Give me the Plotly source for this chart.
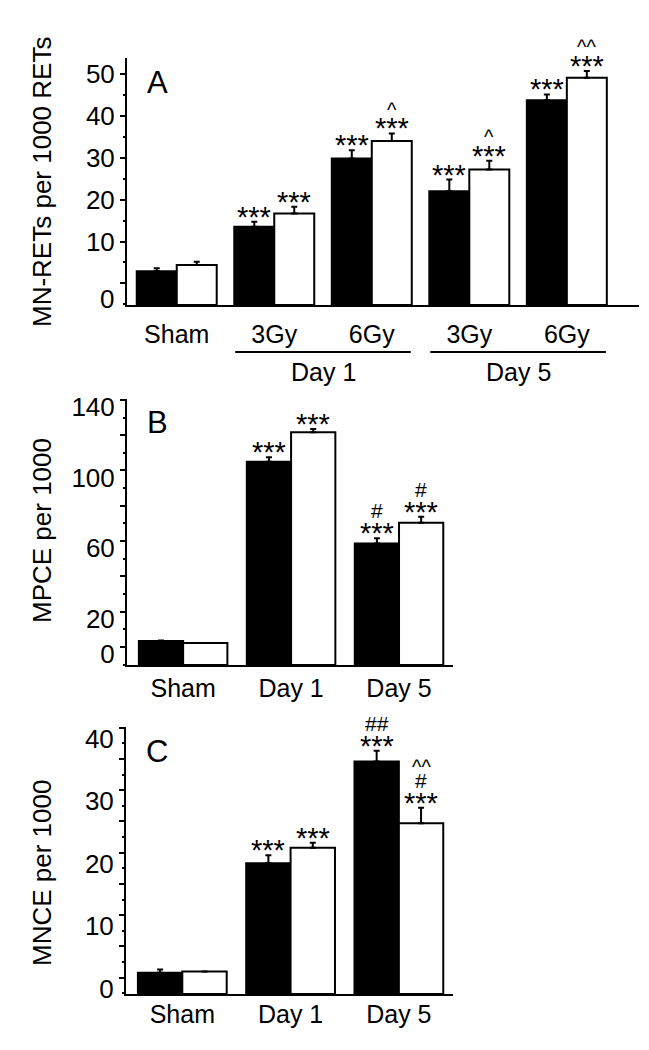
import plotly.graph_objects as go

W, H = 649, 1050
OFF = 8  # page body margin offset observed in the photographed page
FONT = "Arial, Liberation Sans, sans-serif"

# ---------------- data ----------------
# Panel A: MN-RETs per 1000 RETs
A_groups = ["Sham", "3Gy", "6Gy", "3Gy", "6Gy"]
A_black = [2.9, 13.5, 29.8, 22.0, 43.7]
A_black_err = [0.7, 1.2, 2.0, 2.8, 1.4]
A_white = [4.4, 16.7, 34.0, 27.2, 49.1]
A_white_err = [0.8, 1.6, 1.8, 2.1, 1.6]
A_marks_black = [[], ["***"], ["***"], ["***"], ["***"]]
A_marks_white = [[], ["***"], ["***", "^"], ["***", "^"], ["***", "^^"]]
A_day_labels = ["Day 1", "Day 5"]
A_yticks = [0, 10, 20, 30, 40, 50]
A_yticktext = ["", "10", "20", "30", "40", "50"]

# Panel B: MPCE per 1000
B_groups = ["Sham", "Day 1", "Day 5"]
B_black = [3.4, 105.0, 58.7]
B_black_err = [0.3, 2.5, 2.9]
B_white = [2.3, 121.6, 70.4]
B_white_err = [0.0, 1.9, 3.4]
B_marks_black = [[], ["***"], ["***", "#"]]
B_marks_white = [[], ["***"], ["***", "#"]]
B_yticks = [0, 20, 40, 60, 80, 100, 120, 140]
B_yticktext = ["0", "20", "", "60", "", "100", "", "140"]

# Panel C: MNCE per 1000
C_groups = ["Sham", "Day 1", "Day 5"]
C_black = [0.8, 18.3, 34.6]
C_black_err = [0.5, 1.3, 1.7]
C_white = [1.0, 20.8, 24.7]
C_white_err = [0.0, 0.8, 2.5]
C_marks_black = [[], ["***"], ["***", "##"]]
C_marks_white = [[], ["***"], ["***", "#", "^^"]]
C_yticks = [0, 5, 10, 15, 20, 25, 30, 35, 40]
C_yticktext = ["0", "", "10", "", "20", "", "30", "", "40"]

# ---------------- layout geometry (pixels of the final picture) ----------------
def px_x(x):
    return (x - OFF) / W

def px_y(y):
    return 1 - (y - OFF) / H

panels = [
    dict(name="A", groups=A_groups, black=A_black, berr=A_black_err, white=A_white, werr=A_white_err,
         mb=A_marks_black, mw=A_marks_white, yticks=A_yticks, ytext=A_yticktext, minor=5,
         yrange=[-5.15, 53.8], xrange=[-0.51, 4.74], xdom=[127, 639], ydom=[58, 305],
         title="MN-RETs per 1000 RETs", title_y=182, shift=0, standoff=6),
    dict(name="B", groups=B_groups, black=B_black, berr=B_black_err, white=B_white, werr=B_white_err,
         mb=B_marks_black, mw=B_marks_white, yticks=B_yticks, ytext=B_yticktext, minor=10,
         yrange=[-10.2, 140.5], xrange=[-0.52, 2.5], xdom=[127, 453], ydom=[399, 665],
         title="MPCE per 1000", title_y=531, shift=7, standoff=0),
    dict(name="C", groups=C_groups, black=C_black, berr=C_black_err, white=C_white, werr=C_white_err,
         mb=C_marks_black, mw=C_marks_white, yticks=C_yticks, ytext=C_yticktext, minor=2.5,
         yrange=[-2.6, 40.1], xrange=[-0.52, 2.5], xdom=[126, 453], ydom=[727, 994],
         title="MNCE per 1000", title_y=873, shift=11, standoff=-3),
]

HALF = 0.205  # half of a bar slot (bargap 0.18, two bars per group)

fig = go.Figure()
annotations = []
shapes = []

for k, p in enumerate(panels):
    suffix = "" if k == 0 else str(k + 1)
    xa, ya = "x" + suffix, "y" + suffix
    n = len(p["groups"])
    xs = list(range(n))
    base = p["yrange"][0]
    for vals, errs, fill in [(p["black"], p["berr"], "black"), (p["white"], p["werr"], "white")]:
        fig.add_trace(go.Bar(
            x=xs, y=[v - base for v in vals], base=base,
            marker=dict(color=fill, line=dict(color="black", width=2)),
            error_y=dict(type="data", array=errs, arrayminus=[0] * n, symmetric=False,
                         color="black", thickness=2, width=3),
            xaxis=xa, yaxis=ya, showlegend=False, hoverinfo="skip"))
    for vals, errs, marks, dx in [(p["black"], p["berr"], p["mb"], -HALF), (p["white"], p["werr"], p["mw"], HALF)]:
        for i in range(n):
            for lvl, m in enumerate(marks[i]):
                if m == "***":
                    size, corr = 29, -5
                elif m.startswith("^"):
                    size, corr = 20, -4
                else:
                    size, corr = 21, 0
                annotations.append(dict(
                    x=i + dx, y=vals[i] + errs[i], xref=xa, yref=ya, text=m, showarrow=False,
                    yanchor="middle", xanchor="center", yshift=10 + 17.5 * lvl + corr,
                    font=dict(size=size, color="black", family=FONT)))
    axis_x = dict(domain=[px_x(p["xdom"][0]), px_x(p["xdom"][1])], range=p["xrange"], automargin=False,
                  showline=True, linewidth=2, linecolor="black", showgrid=False, zeroline=False,
                  tickvals=xs, ticktext=p["groups"], ticks="", tickfont=dict(size=25, color="black", family=FONT),
                  ticklabelstandoff=p["standoff"], anchor=ya, fixedrange=True)
    axis_y = dict(domain=[px_y(p["ydom"][1]), px_y(p["ydom"][0])], range=p["yrange"], automargin=False,
                  showline=True, linewidth=2, linecolor="black", showgrid=False, zeroline=False,
                  tickvals=p["yticks"], ticktext=p["ytext"], ticks="outside", ticklen=5, tickwidth=2,
                  tickcolor="black", tickfont=dict(size=26, color="black", family=FONT),
                  ticklabelshift=p["shift"],
                  minor=dict(dtick=p["minor"], tick0=0, ticks="outside", ticklen=2, tickwidth=1.5, tickcolor="black"),
                  anchor=xa, fixedrange=True)
    fig.update_layout(**{"xaxis" + suffix: axis_x, "yaxis" + suffix: axis_y})
    annotations.append(dict(x=px_x(42), y=px_y(p["title_y"]), xref="paper", yref="paper", text=p["title"],
                            textangle=-90, showarrow=False, xanchor="center", yanchor="middle",
                            font=dict(size=26, color="black", family=FONT)))
    annotations.append(dict(x=px_x(157), y=px_y(p["ydom"][0] + 24), xref="paper", yref="paper", text=p["name"],
                            showarrow=False, xanchor="center", yanchor="middle",
                            font=dict(size=31, color="black", family=FONT)))

# Panel A: the "0" label sits below its tick, next to the baseline
annotations.append(dict(x=px_x(116), y=-3.6, xref="paper", yref="y", text="0", showarrow=False,
                        xanchor="right", yanchor="middle", font=dict(size=26, color="black", family=FONT)))

# Panel A: Day grouping lines and labels
for j, lab in enumerate(A_day_labels):
    g0, g1 = 1 + 2 * j, 2 + 2 * j
    shapes.append(dict(type="line", xref="x", yref="paper", x0=g0 - 0.4, x1=g1 + 0.4,
                       y0=px_y(352), y1=px_y(352), line=dict(color="black", width=2)))
    annotations.append(dict(x=(g0 + g1) / 2, y=px_y(372), xref="x", yref="paper", text=lab, showarrow=False,
                            xanchor="center", yanchor="middle", font=dict(size=25, color="black", family=FONT)))

fig.update_layout(width=W, height=H, margin=dict(l=0, r=0, t=0, b=0, autoexpand=False),
                  paper_bgcolor="white", plot_bgcolor="white",
                  barmode="group", bargap=0.18, bargroupgap=0,
                  annotations=annotations, shapes=shapes, showlegend=False,
                  font=dict(family=FONT, color="black"))

fig.write_html("out.html", config={"displayModeBar": False})
